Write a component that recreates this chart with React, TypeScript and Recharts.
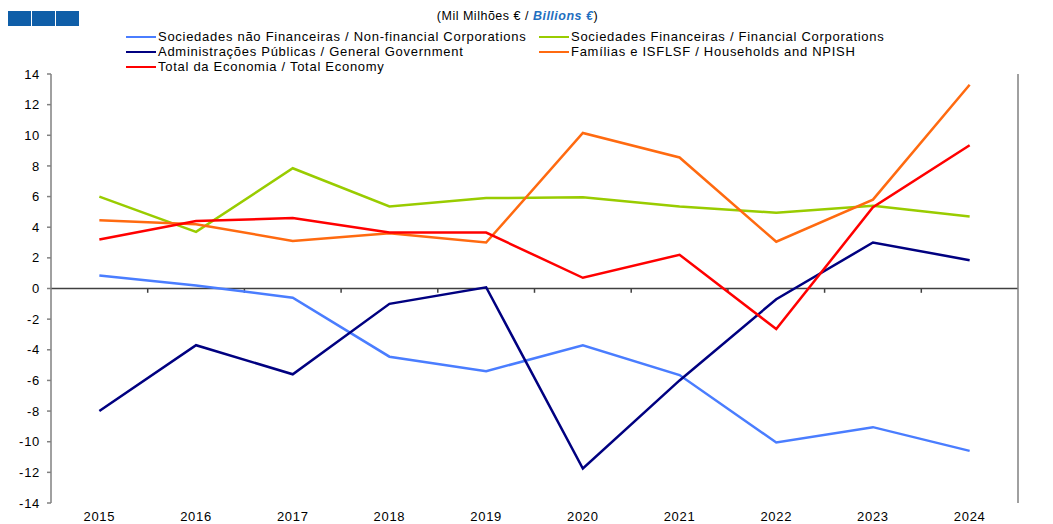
import React from "react";
import { LineChart, Line, XAxis, YAxis, ReferenceLine } from "recharts";

const years = ["2015", "2016", "2017", "2018", "2019", "2020", "2021", "2022", "2023", "2024"];
const nonFinancial = [0.85, 0.2, -0.6, -4.45, -5.4, -3.7, -5.65, -10.05, -9.05, -10.6];
const financial = [6.0, 3.7, 7.85, 5.35, 5.9, 5.95, 5.35, 4.95, 5.4, 4.7];
const government = [-8.0, -3.7, -5.6, -1.0, 0.08, -11.75, -6.0, -0.7, 3.0, 1.85];
const households = [4.45, 4.2, 3.1, 3.6, 3.0, 10.15, 8.55, 3.05, 5.8, 13.3];
const total = [3.2, 4.4, 4.6, 3.65, 3.65, 0.7, 2.2, -2.65, 5.3, 9.35];
const yTicks = [-14, -12, -10, -8, -6, -4, -2, 0, 2, 4, 6, 8, 10, 12, 14];

const seriesNames = [
  "Sociedades não Financeiras / Non-financial Corporations",
  "Sociedades Financeiras / Financial Corporations",
  "Administrações Públicas / General Government",
  "Famílias e ISFLSF / Households and NPISH",
  "Total da Economia / Total Economy",
];
const seriesKeys = ["nfc", "fc", "gg", "hh", "tot"];
const seriesValues = [nonFinancial, financial, government, households, total];
const seriesColors = ["#4a7dff", "#99cc00", "#000080", "#ff6a10", "#ff0000"];

const data = years.map((y, i) => {
  const row: any = { idx: i, year: y };
  seriesKeys.forEach((k, s) => {
    row[k] = seriesValues[s][i];
  });
  return row;
});

const FONT = "'Liberation Sans', Arial, Helvetica, sans-serif";

const XTick = (props: any) => {
  const { x, y, payload } = props;
  return (
    <text x={x} y={y} dy="0.71em" textAnchor="middle" fontSize={13} fill="#000" fontFamily={FONT} style={{ letterSpacing: "0.7px" }}>
      {years[payload.value]}
    </text>
  );
};

const YTickL = (props: any) => {
  const { x, y, payload } = props;
  return (
    <text x={x} y={y} dy="0.355em" textAnchor="end" fontSize={13} fill="#000" fontFamily={FONT} style={{ letterSpacing: "0.7px" }}>
      {payload.value}
    </text>
  );
};

const YTickR = (props: any) => {
  const { x, y, payload } = props;
  return (
    <text x={x} y={y} dy="0.355em" textAnchor="start" fontSize={13} fill="#000" fontFamily={FONT} style={{ letterSpacing: "0.7px" }}>
      {payload.value}
    </text>
  );
};

export default function App() {
  const legendCols = [126, 539];
  const legendRows = [37, 52, 67];
  return (
    <div style={{ position: "absolute", left: 0, top: 0, width: 1053, height: 524, background: "#fff", fontFamily: FONT }}>
      {[0, 1, 2].map((i) => (
        <div key={i} style={{ position: "absolute", left: 8 + i * 24, top: 11, width: 23, height: 15, background: "#0f5ea8" }} />
      ))}
      <div style={{ position: "absolute", left: 0, width: 1035, top: 8, textAlign: "center", fontSize: 12.5, color: "#000", letterSpacing: "0.5px", lineHeight: "16px" }}>
        (Mil Milhões € / <b><i style={{ color: "#1f6fc0" }}>Billions €</i></b>)
      </div>
      {seriesNames.map((name, i) => {
        const col = i % 2;
        const row = Math.floor(i / 2);
        return (
          <div key={name} style={{ position: "absolute", left: legendCols[col], top: legendRows[row] - 8, height: 16, display: "flex", alignItems: "center", whiteSpace: "nowrap" }}>
            <div style={{ width: 30, height: 2.5, background: seriesColors[i], marginRight: 2 }} />
            <span style={{ fontSize: 13, color: "#000", letterSpacing: "0.72px", lineHeight: "16px" }}>{name}</span>
          </div>
        );
      })}
      <div style={{ position: "absolute", left: 0, top: 0 }}>
        <LineChart width={1053} height={524} data={data} margin={{ top: 74, right: 0, bottom: 0, left: 0 }}>
          <XAxis
            dataKey="idx"
            type="number"
            domain={[-0.5, 9.5]}
            ticks={years.map((_, i) => i)}
            interval={0}
            axisLine={false}
            tickLine={false}
            tickSize={6}
            tickMargin={3}
            height={21}
            tick={<XTick />}
          />
          <YAxis
            yAxisId="left"
            orientation="left"
            width={51}
            domain={[-14, 14]}
            ticks={yTicks}
            interval={0}
            axisLine={{ stroke: "#808080", strokeWidth: 1.5 }}
            tickLine={{ stroke: "#808080", strokeWidth: 1.5 }}
            tickSize={4}
            tickMargin={7}
            tick={<YTickL />}
          />
          <YAxis
            yAxisId="right"
            orientation="right"
            width={35}
            domain={[-14, 14]}
            ticks={yTicks}
            interval={0}
            axisLine={{ stroke: "#808080", strokeWidth: 1.5 }}
            tickLine={{ stroke: "#808080", strokeWidth: 1.5 }}
            tickSize={4}
            tickMargin={8}
            tick={<YTickR />}
          />
          <ReferenceLine yAxisId="left" y={0} stroke="#404040" strokeWidth={1.5} />
          {years.slice(0, -1).map((_, i) => (
            <ReferenceLine
              key={"b" + i}
              yAxisId="left"
              segment={[
                { x: i + 0.5, y: 0 },
                { x: i + 0.5, y: -0.28 },
              ]}
              stroke="#404040"
              strokeWidth={1.5}
            />
          ))}
          {seriesKeys.map((k, s) => (
            <Line
              key={k}
              yAxisId="left"
              dataKey={k}
              type="linear"
              stroke={seriesColors[s]}
              strokeWidth={2.5}
              dot={false}
              isAnimationActive={false}
            />
          ))}
        </LineChart>
      </div>
    </div>
  );
}
